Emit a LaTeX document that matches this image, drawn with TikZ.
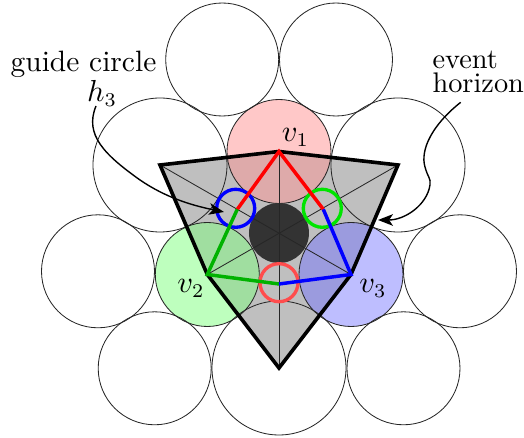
\documentclass[tikz,border=0pt]{standalone}
\usetikzlibrary{arrows.meta}
\definecolor{vonelight}{RGB}{255,200,200}
\definecolor{vonedark}{RGB}{222,170,170}
\definecolor{vtwolight}{RGB}{190,255,190}
\definecolor{vtwodark}{RGB}{160,222,160}
\definecolor{vthreelight}{RGB}{190,190,255}
\definecolor{vthreedark}{RGB}{155,155,222}
\begin{document}
\begin{tikzpicture}[
        x=0.36pt, y=-0.36pt,
        thinline/.style={draw=black!85, line width=0.3pt},
        horizon/.style={draw=black, line width=1.3pt, line join=miter},
        edgeline/.style={line width=1.25pt},
        guide/.style={line width=1.2pt},
        callout/.style={line width=0.5pt, -{Stealth[length=5.4pt, width=4.2pt, inset=1.4pt]}},
        label/.style={inner sep=0pt, anchor=base, font=\fontsize{10.6}{12}\selectfont}
    ]
        \useasboundingbox (0,0) rectangle (524,438);

        % disks and triangle corners
        \coordinate (v1) at (279,151.5);
        \coordinate (v2) at (207.3,274.5);
        \coordinate (v3) at (351,274.5);
        \coordinate (c)  at (279,233);
        \coordinate (p1) at (160,165);
        \coordinate (p2) at (398,165);
        \coordinate (p3) at (279,368);

        % midpoints of the coloured edges
        \coordinate (m1) at (237.3,209.3);
        \coordinate (m2) at (323.3,209.3);
        \coordinate (m3) at (279,284);

        \fill[black!25] (p1) -- (v1) -- (p2) -- (v3) -- (p3) -- (v2) -- cycle;

        \foreach \pos/\light/\dark in {v1/vonelight/vonedark, v2/vtwolight/vtwodark, v3/vthreelight/vthreedark} {
            \fill[\light] (\pos) circle (52);
            \begin{scope}
                \clip (p1) -- (v1) -- (p2) -- (v3) -- (p3) -- (v2) -- cycle;
                \fill[\dark] (\pos) circle (52);
            \end{scope}
            \draw[thinline] (\pos) circle (52);
        }
        \fill[black!80] (c) circle (30);

        \foreach \pos in {(222.2,59.5), (336,59.5), (98,271.3), (460,271.3), (154.7,368.3), (403.5,368.3)} {
            \draw[thinline] \pos circle (56.5);
        }
        \foreach \pos in {p1, p2, p3} {
            \draw[thinline] (\pos) circle (67);
        }

        \draw[thinline] (p1) -- (v3);
        \draw[thinline] (p2) -- (v2);
        \draw[thinline] (v1) -- (p3);
        \draw[thinline] (v2) -- (m1);

        \draw[guide, blue] (235.7,208.3) circle (19);
        \draw[guide, green!90!black] (322.3,208.3) circle (19);
        \draw[guide, red!70!white] (279,282.7) circle (19);

        \draw[horizon] (p1) -- (v1) -- (p2) -- (v3) -- (p3) -- (v2) -- cycle;

        \draw[edgeline, red] (m1) -- (v1) -- (m2);
        \draw[edgeline, green!70!black] (m1) -- (v2) -- (m3);
        \draw[edgeline, blue] (m2) -- (v3) -- (m3);

        \node[label] (v1label) at (295.5,142) {$v_1$};
        \node[label] (v2label) at (191,293) {$v_2$};
        \node[label] (v3label) at (373,293) {$v_3$};

        \node[label] (guidelabel) at (83.5,72) {guide circle};
        \node[label] (hlabel) at (102,102) {$h_3$};
        \node[label, anchor=north west, align=left, font=\fontsize{10.2}{8.64}\selectfont] (eventlabel) at (432,50.6) {event\\horizon};

        \coordinate (hstart) at (96,106);
        \coordinate (hend) at (224,212);
        \coordinate (estart) at (460.7,102.3);
        \coordinate (eend) at (378,220);

        \draw[callout] (hstart) .. controls (84,135) and (105,155) .. (140,180)
            .. controls (165,197) and (190,205) .. (hend);
        \draw[callout] (estart) .. controls (432,125) and (420,150) .. (425,167)
            .. controls (428,178) and (431,178) .. (430,185)
            .. controls (427,205) and (405,220) .. (eend);
    \end{tikzpicture}
\end{document}
